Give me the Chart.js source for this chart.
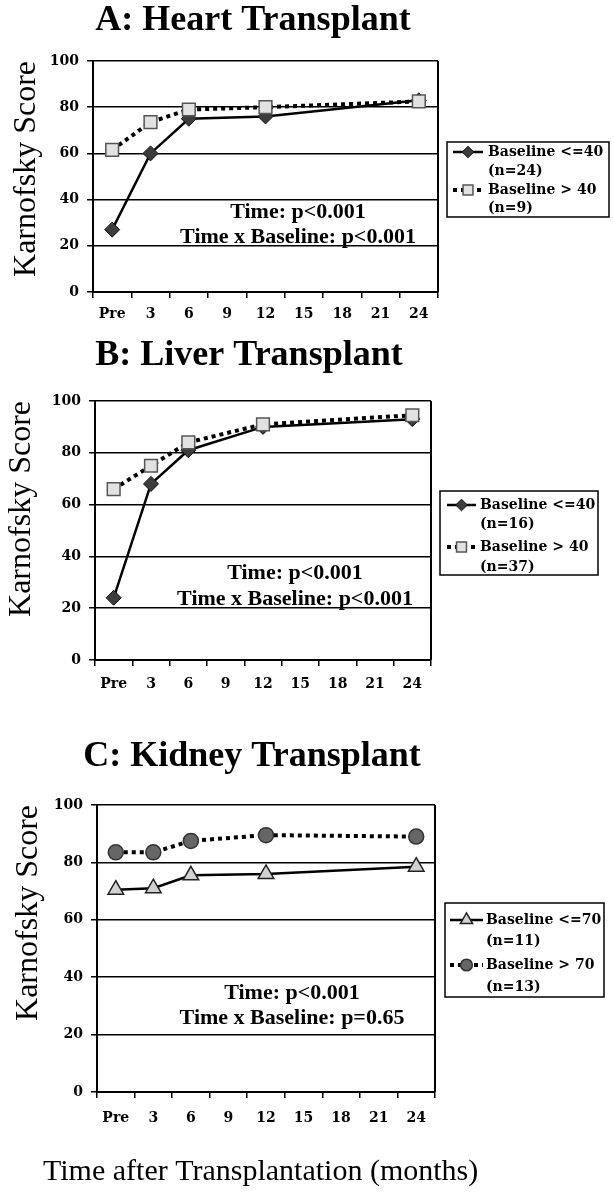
<!DOCTYPE html>
<html>
<head>
<meta charset="utf-8">
<script src="https://cdn.jsdelivr.net/npm/chart.js@4.4.1/dist/chart.umd.min.js"></script>
<style>
  html, body { margin: 0; padding: 0; background: #fff; }
  #page { position: relative; width: 614px; height: 1194px; }
  .panel { position: absolute; left: 0; width: 614px; }
</style>
</head>
<body>
<div id="page">
  <div class="panel" style="top:0;height:330px"><canvas id="heart"></canvas></div>
  <div class="panel" style="top:330px;height:380px"><canvas id="liver"></canvas></div>
  <div class="panel" style="top:710px;height:484px"><canvas id="kidney"></canvas></div>
</div>
<script>
Chart.defaults.color = '#000';
Chart.defaults.font.family = 'Liberation Serif';

// months after transplant (category axis)
const months = ['Pre', '3', '6', '9', '12', '15', '18', '21', '24'];

// Karnofsky score, null = not measured
const heartLow = [27, 60, 75, null, 76, null, null, null, 83];
const heartHigh = [61.5, 73.5, 79, null, 80, null, null, null, 82.5];
const liverLow = [24, 68, 81, null, 90, null, null, null, 93];
const liverHigh = [66, 75, 84, null, 91, null, null, null, 94.5];
const kidneyLow = [70.5, 71, 75.5, null, 76, null, null, null, 78.5];
const kidneyHigh = [83.5, 83.5, 87.5, null, 89.5, null, null, null, 89];

const heartLegend = [['Baseline <=40', '(n=24)'], ['Baseline > 40', '(n=9)']];
const liverLegend = [['Baseline <=40', '(n=16)'], ['Baseline > 40', '(n=37)']];
const kidneyLegend = [['Baseline <=70', '(n=11)'], ['Baseline > 70', '(n=13)']];

const heartNotes = ['Time: p<0.001', 'Time x Baseline: p<0.001'];
const liverNotes = ['Time: p<0.001', 'Time x Baseline: p<0.001'];
const kidneyNotes = ['Time: p<0.001', 'Time x Baseline: p=0.65'];

const tickFont = { family: 'DejaVu Serif', weight: 'bold', size: 14 };

// titles, notes, right frame and boxed legend
const panelDecor = {
  id: 'panelDecor',
  afterDraw(chart, args, opts) {
    const ctx = chart.ctx;
    const area = chart.chartArea;
    ctx.save();
    ctx.strokeStyle = '#000';
    ctx.lineWidth = 2;
    ctx.beginPath();
    ctx.moveTo(area.right, area.top);
    ctx.lineTo(area.right, area.bottom);
    ctx.stroke();

    ctx.fillStyle = '#000';
    ctx.textBaseline = 'middle';
    opts.texts.forEach(t => {
      ctx.font = t.font;
      ctx.textAlign = t.align || 'center';
      ctx.fillText(t.text, t.x, t.y);
    });

    const lg = opts.legend;
    ctx.lineWidth = 1.5;
    ctx.strokeRect(lg.left, lg.top, lg.width, lg.height);
    ctx.font = lg.font;
    ctx.textAlign = 'left';
    chart.data.datasets.forEach((ds, i) => {
      const y = lg.rows[i * 2];
      ctx.save();
      ctx.lineWidth = ds.borderWidth;
      ctx.setLineDash(ds.borderDash || []);
      ctx.beginPath();
      ctx.moveTo(lg.sampleLeft, y);
      ctx.lineTo(lg.sampleRight, y);
      ctx.stroke();
      ctx.restore();
      ctx.save();
      ctx.fillStyle = ds.pointBackgroundColor;
      ctx.strokeStyle = ds.pointBorderColor;
      ctx.lineWidth = ds.pointBorderWidth;
      Chart.helpers.drawPoint(ctx, {
        pointStyle: ds.pointStyle,
        radius: ds.pointRadius * 0.78,
        rotation: 0,
        borderWidth: ds.pointBorderWidth
      }, (lg.sampleLeft + lg.sampleRight) / 2, y);
      ctx.restore();
      ctx.fillText(ds.legendLines[0], lg.textX, lg.rows[i * 2]);
      ctx.fillText(ds.legendLines[1], lg.textX, lg.rows[i * 2 + 1]);
    });
    ctx.restore();
  }
};

function solidSet(values, lines, style) {
  return Object.assign({
    label: lines.join(' '),
    legendLines: lines,
    data: values,
    borderColor: '#000',
    borderWidth: 2.5,
    spanGaps: true,
    tension: 0,
    order: 2
  }, style);
}

function dottedSet(values, lines, style) {
  return Object.assign({
    label: lines.join(' '),
    legendLines: lines,
    data: values,
    borderColor: '#000',
    borderWidth: 4,
    borderDash: [4, 4],
    borderCapStyle: 'butt',
    spanGaps: true,
    tension: 0,
    order: 1
  }, style);
}

const diamond = { pointStyle: 'rectRot', pointRadius: 7.5, pointBackgroundColor: '#3c3c3c', pointBorderColor: '#111', pointBorderWidth: 1 };
const square = { pointStyle: 'rect', pointRadius: 9, pointBackgroundColor: '#e2e2e2', pointBorderColor: '#555', pointBorderWidth: 1.5 };
const triangle = { pointStyle: 'triangle', pointRadius: 9, pointBackgroundColor: '#d2d2d2', pointBorderColor: '#222', pointBorderWidth: 1.5 };
const circle = { pointStyle: 'circle', pointRadius: 7.5, pointBackgroundColor: '#666', pointBorderColor: '#333', pointBorderWidth: 1.5 };

function makePanel(id, datasets, lay) {
  return new Chart(document.getElementById(id), {
    type: 'line',
    data: { labels: months, datasets: datasets },
    options: {
      responsive: true,
      maintainAspectRatio: false,
      animation: false,
      layout: { padding: { left: 0, top: lay.top, right: lay.right, bottom: lay.bottom } },
      scales: {
        x: {
          type: 'category',
          offset: true,
          grid: { offset: true, drawOnChartArea: false, drawTicks: true, tickLength: 6, color: '#000', lineWidth: 1.5 },
          border: { display: true, color: '#000', width: 2 },
          ticks: { font: tickFont, color: '#000', padding: lay.xPad, maxRotation: 0, autoSkip: false },
          afterFit(scale) { scale.height = lay.xHeight; }
        },
        y: {
          min: 0,
          max: 100,
          grid: { color: '#000', lineWidth: 1.5, tickLength: 6 },
          border: { display: true, color: '#000', width: 2 },
          ticks: { stepSize: 20, font: tickFont, color: '#000', padding: 8 },
          title: {
            display: true,
            text: 'Karnofsky Score',
            align: 'end',
            color: '#000',
            font: { family: 'Liberation Serif', size: 32 },
            padding: { top: lay.titlePad, bottom: 0 }
          },
          afterFit(scale) { scale.width = lay.yWidth; }
        }
      },
      plugins: {
        legend: { display: false },
        tooltip: { enabled: false },
        panelDecor: { texts: lay.texts, legend: lay.legend }
      }
    },
    plugins: [panelDecor]
  });
}

const titleFont = 'bold 36px "Liberation Serif"';
const noteFont = 'bold 22px "Liberation Serif"';
const legendFont = 'bold 14px "DejaVu Serif"';

makePanel('heart', [
  solidSet(heartLow, heartLegend[0], diamond),
  dottedSet(heartHigh, heartLegend[1], square)
], {
  top: 61, right: 176, bottom: 2, xHeight: 36, yWidth: 93, titlePad: 7, xPad: 8,
  texts: [
    { text: 'A: Heart Transplant', x: 253, y: 21, font: titleFont },
    { text: heartNotes[0], x: 298, y: 212, font: noteFont },
    { text: heartNotes[1], x: 298, y: 237, font: noteFont }
  ],
  legend: { left: 447, top: 142, width: 162, height: 75, rows: [152, 171, 190, 208], sampleLeft: 453, sampleRight: 483, textX: 488, font: legendFont }
});

makePanel('liver', [
  solidSet(liverLow, liverLegend[0], diamond),
  dottedSet(liverHigh, liverLegend[1], square)
], {
  top: 71, right: 183, bottom: 10, xHeight: 40, yWidth: 95, titlePad: 2, xPad: 10,
  texts: [
    { text: 'B: Liver Transplant', x: 249, y: 26, font: titleFont },
    { text: liverNotes[0], x: 295, y: 243, font: noteFont },
    { text: liverNotes[1], x: 295, y: 269, font: noteFont }
  ],
  legend: { left: 440, top: 161, width: 158, height: 84, rows: [175, 194, 217, 237], sampleLeft: 447, sampleRight: 476, textX: 480, font: legendFont }
});

makePanel('kidney', [
  solidSet(kidneyLow, kidneyLegend[0], triangle),
  dottedSet(kidneyHigh, kidneyLegend[1], circle)
], {
  top: 95, right: 179, bottom: 57, xHeight: 45, yWidth: 97, titlePad: 9, xPad: 12,
  texts: [
    { text: 'C: Kidney Transplant', x: 252, y: 47, font: titleFont },
    { text: kidneyNotes[0], x: 292, y: 283, font: noteFont },
    { text: kidneyNotes[1], x: 292, y: 308, font: noteFont },
    { text: 'Time after Transplantation (months)', x: 43, y: 462, font: '30px "Liberation Serif"', align: 'left' }
  ],
  legend: { left: 445, top: 193, width: 159, height: 94, rows: [210, 231, 255, 277], sampleLeft: 450, sampleRight: 483, textX: 486, font: legendFont }
});
</script>
</body>
</html>
